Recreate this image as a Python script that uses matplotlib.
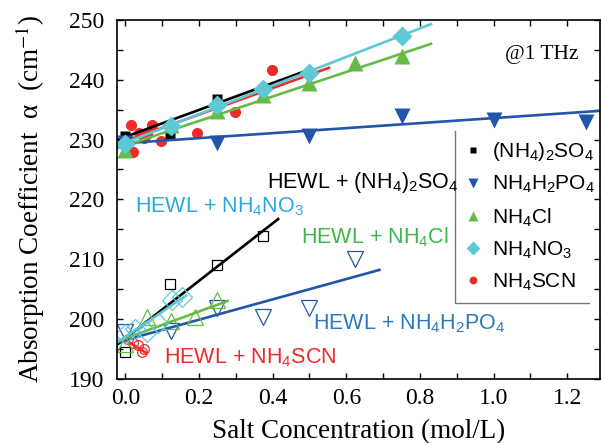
import matplotlib
matplotlib.use('Agg')
import matplotlib.pyplot as plt
from matplotlib.ticker import MultipleLocator

plt.rcParams['font.family'] = 'Liberation Sans'
plt.rcParams['mathtext.fontset'] = 'custom'
plt.rcParams['mathtext.rm'] = 'Liberation Sans'
plt.rcParams['mathtext.it'] = 'Liberation Sans:italic'

# salt only (filled markers)
as_x = [0.0, 0.122, 0.25, 0.375]
as_y = [230.6, 230.7, 236.8, 238.5]
np_x = [0.0, 0.25, 0.5, 0.75, 1.0, 1.25]
np_y = [229.4, 229.4, 230.6, 234.0, 233.3, 232.9]
nc_x = [0.0, 0.125, 0.25, 0.375, 0.5, 0.625, 0.75]
nc_y = [228.3, 232.5, 234.7, 237.5, 239.5, 242.8, 243.9]
nn_x = [0.0, 0.125, 0.25, 0.375, 0.5, 0.75]
nn_y = [229.2, 232.2, 235.8, 238.4, 241.1, 247.3]
scn_x = [0.015, 0.021, 0.036, 0.05, 0.06, 0.072, 0.097, 0.196, 0.297, 0.397]
scn_y = [232.5, 227.9, 231.1, 230.3, 231.0, 232.5, 229.7, 231.1, 234.6, 241.7]

# HEWL + salt (open markers)
h_as_x = [0.0, 0.122, 0.25, 0.375]
h_as_y = [194.5, 205.8, 209.1, 213.9]
h_np_x = [0.0, 0.125, 0.25, 0.375, 0.5, 0.625]
h_np_y = [197.8, 198.0, 201.9, 200.3, 201.8, 210.1]
h_nc_x = [0.0, 0.06, 0.125, 0.19, 0.25]
h_nc_y = [195.8, 200.4, 199.7, 200.3, 203.2]
h_nn_x = [0.0, 0.027, 0.06, 0.09, 0.127, 0.154]
h_nn_y = [197.5, 198.3, 197.8, 199.4, 203.2, 203.6]
h_scn_x = [0.008, 0.02, 0.035, 0.045, 0.05]
h_scn_y = [196.6, 196.0, 195.6, 194.4, 195.0]

fit_as = ([-0.02, 0.5], [230.0, 241.7])
fit_np = ([-0.022, 1.29], [229.3, 234.8])
fit_nc = ([-0.02, 0.83], [228.6, 246.0])
fit_nn = ([-0.02, 0.83], [229.0, 249.3])
fit_scn = ([-0.02, 0.553], [229.3, 242.0])
hfit_as = ([-0.02, 0.415], [195.8, 216.7])
hfit_np = ([-0.022, 0.69], [196.1, 208.2])
hfit_nc = ([-0.02, 0.278], [196.3, 203.0])
hfit_nn = ([-0.022, 0.165], [196.1, 203.9])
hfit_scn = ([0.0, 0.057], [196.5, 194.3])

labels = [r'(NH$_4$)$_2$SO$_4$', r'NH$_4$H$_2$PO$_4$', r'NH$_4$Cl',
          r'NH$_4$NO$_3$', r'NH$_4$SCN']

black = '#000000'
blue = '#2356a8'
green = '#66bb44'
cyan = '#5ec8d5'
red = '#ee2b2b'

fig = plt.figure(figsize=(6.01, 4.43), dpi=100)
ax = fig.add_axes([0.195, 0.145, 0.804, 0.81])

lw = 1.9
# HEWL lines + open markers
ax.plot(h_scn_x, h_scn_y, 'o', ms=7, mfc='none', mec=red, mew=0.9)
ax.plot(*hfit_scn, color=red, lw=lw)
ax.plot(h_as_x, h_as_y, 's', ms=7, mfc='none', mec=black, mew=0.9)
ax.plot(*hfit_as, color=black, lw=lw)
ax.plot(h_np_x, h_np_y, 'v', ms=11, mfc='none', mec=blue, mew=0.9)
ax.plot(*hfit_np, color=blue, lw=lw)
ax.plot(h_nc_x, h_nc_y, '^', ms=11, mfc='none', mec=green, mew=0.9)
ax.plot(*hfit_nc, color=green, lw=lw)
ax.plot(h_nn_x, h_nn_y, 'D', ms=10, mfc='none', mec=cyan, mew=0.9)
ax.plot(*hfit_nn, color=cyan, lw=lw)

# salt only
h_scn, = ax.plot(scn_x, scn_y, 'o', ms=8, color=red, mec='none', label=labels[4])
ax.plot(*fit_scn, color=red, lw=lw)
h_as, = ax.plot(as_x, as_y, 's', ms=7, color=black, mec='none', label=labels[0])
ax.plot(*fit_as, color=black, lw=lw)
h_np, = ax.plot(np_x, np_y, 'v', ms=11, color=blue, mec='none', label=labels[1])
ax.plot(*fit_np, color=blue, lw=lw)
h_nc, = ax.plot(nc_x, nc_y, '^', ms=11, color=green, mec='none', label=labels[2])
ax.plot(*fit_nc, color=green, lw=lw)
h_nn, = ax.plot(nn_x, nn_y, 'D', ms=10, color=cyan, mec='none', label=labels[3])
ax.plot(*fit_nn, color=cyan, lw=lw)

ax.set_xlim(-0.022, 1.29)
ax.set_ylim(190, 250)
ax.xaxis.set_major_locator(MultipleLocator(0.2))
ax.xaxis.set_minor_locator(MultipleLocator(0.1))
ax.yaxis.set_major_locator(MultipleLocator(10))
ax.yaxis.set_minor_locator(MultipleLocator(5))
ax.tick_params(which='both', direction='in', top=True, right=True,
               length=4, width=1, labelsize=17, labelfontfamily='Liberation Serif')
ax.tick_params(axis='x', pad=7)
ax.tick_params(axis='y', pad=9)
for s in ax.spines.values():
    s.set_linewidth(1.2)

ax.set_xlabel('Salt Concentration (mol/L)', family='Liberation Serif', fontsize=19.5,
              labelpad=7)
ax.set_ylabel(r'Absorption Coefficient  α  (cm$^{-1}$)', family='Liberation Serif',
              fontsize=19.5, math_fontfamily='stix')
ax.yaxis.set_label_coords(-0.145, 0.5)

ts = 15.5
ax.text(0.385, 222.8, r'HEWL + (NH$_4$)$_2$SO$_4$', color=black, fontsize=ts, va='center')
ax.text(0.027, 218.7, r'HEWL + NH$_4$NO$_3$', color='#2aa8e0', fontsize=ts, va='center')
ax.text(0.476, 213.7, r'HEWL + NH$_4$Cl', color='#3db54a', fontsize=ts, va='center')
ax.text(0.51, 199.2, r'HEWL + NH$_4$H$_2$PO$_4$', color='#2b78be', fontsize=ts, va='center')
ax.text(0.104, 193.6, r'HEWL + NH$_4$SCN', color='#ee2b2b', fontsize=ts, va='center')
ax.text(1.13, 244.2, '@1 THz', family='Liberation Serif', fontsize=15.5, ha='center', va='center')

leg = ax.legend(handles=[h_as, h_np, h_nc, h_nn, h_scn], loc='upper left',
                bbox_to_anchor=(0.70, 0.685), frameon=False, fontsize=15,
                markerscale=0.7, handlelength=1.0, handletextpad=0.4,
                labelspacing=0.52, borderaxespad=0.0, borderpad=0.35)
# legend frame: only left and bottom edges
ax.plot([0.70, 0.70, 0.977], [0.69, 0.212, 0.212], transform=ax.transAxes,
        color='#777777', lw=1.0, clip_on=False)

fig.savefig('out.png', dpi=100)
